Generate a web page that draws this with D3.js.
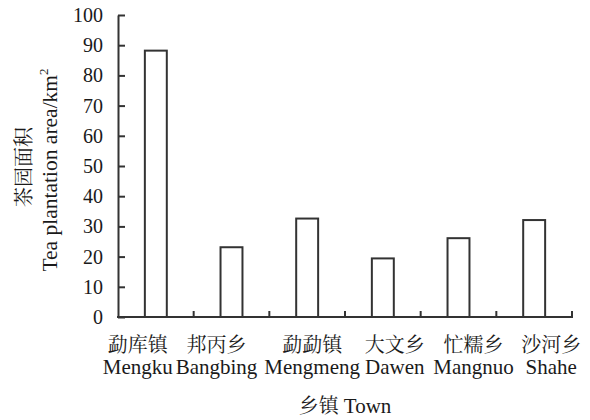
<!DOCTYPE html>
<html>
<head>
<meta charset="utf-8">
<script src="https://cdn.jsdelivr.net/npm/d3@7"></script>
<style>
  html, body { margin: 0; padding: 0; background: #fff; }
  svg { display: block; }
</style>
</head>
<body>
<svg id="chart" width="590" height="420"></svg>
<script>
// Tea plantation area by town (km²)
const townsZh = ["勐库镇", "邦丙乡", "勐勐镇", "大文乡", "忙糯乡", "沙河乡"];
const townsEn = ["Mengku", "Bangbing", "Mengmeng", "Dawen", "Mangnuo", "Shahe"];
const areas = [88.2, 23.1, 32.6, 19.4, 26.1, 32.1];
const yTicks = [0, 10, 20, 30, 40, 50, 60, 70, 80, 90, 100];

// Layout
const plotLeft = 118, plotRight = 572, plotTop = 15, plotBottom = 317;
const labelShift = [-18, -15, 5, 12, 15, 17];
const ink = "#333";
const textInk = "#1a1a1a";
const latin = "'Liberation Serif', 'Times New Roman', serif";
const cjk = "'Noto Serif CJK SC', 'Liberation Serif', serif";

const svg = d3.select("#chart");

const x = d3.scaleBand().domain(townsEn).range([plotLeft, plotRight]).paddingInner(0).paddingOuter(0);
const y = d3.scaleLinear().domain([0, 100]).range([plotBottom, plotTop]);

// Y axis with inward ticks
const yAxis = d3.axisLeft(y).tickValues(yTicks).tickSizeInner(-7).tickSizeOuter(0).tickPadding(15);
const gy = svg.append("g").attr("transform", `translate(${plotLeft},0)`).call(yAxis);
gy.select(".domain").attr("stroke", ink).attr("stroke-width", 2);
gy.selectAll(".tick line").attr("stroke", ink).attr("stroke-width", 2);
gy.selectAll(".tick text")
  .style("font-family", latin)
  .style("font-size", "20px")
  .style("fill", textInk);

// X axis baseline with upward boundary ticks
svg.append("line")
  .attr("x1", plotLeft - 1).attr("x2", plotRight + 1)
  .attr("y1", plotBottom).attr("y2", plotBottom)
  .attr("stroke", ink).attr("stroke-width", 2);
svg.selectAll("line.xtick")
  .data(townsEn)
  .join("line")
  .attr("class", "xtick")
  .attr("x1", d => x(d) + x.bandwidth()).attr("x2", d => x(d) + x.bandwidth())
  .attr("y1", plotBottom).attr("y2", plotBottom - 6)
  .attr("stroke", ink).attr("stroke-width", 2);

// Bars
const bw = x.bandwidth() * 0.29;
svg.selectAll("rect.bar")
  .data(areas)
  .join("rect")
  .attr("class", "bar")
  .attr("x", (d, i) => x(townsEn[i]) + x.bandwidth() / 2 - bw / 2)
  .attr("y", d => y(d))
  .attr("width", bw)
  .attr("height", d => y(0) - y(d))
  .attr("fill", "#fff")
  .attr("stroke", ink)
  .attr("stroke-width", 2);

// Category labels (Chinese above, English below)
const cx = i => x(townsEn[i]) + x.bandwidth() / 2 + labelShift[i];
svg.selectAll("text.zh")
  .data(townsZh)
  .join("text")
  .attr("class", "zh")
  .attr("x", (d, i) => cx(i))
  .attr("y", 352)
  .attr("text-anchor", "middle")
  .style("font-family", cjk)
  .style("font-size", "20px")
  .style("fill", textInk)
  .text(d => d);
svg.selectAll("text.en")
  .data(townsEn)
  .join("text")
  .attr("class", "en")
  .attr("x", (d, i) => cx(i))
  .attr("y", 374)
  .attr("text-anchor", "middle")
  .style("font-family", latin)
  .style("font-size", "21px")
  .style("fill", textInk)
  .text(d => d);

// X axis title
const xt = svg.append("text")
  .attr("x", (plotLeft + plotRight) / 2)
  .attr("y", 413)
  .attr("text-anchor", "middle")
  .style("font-size", "20px")
  .style("fill", textInk);
xt.append("tspan").style("font-family", cjk).text("乡镇 ");
xt.append("tspan").style("font-family", latin).style("font-size", "21px").text("Town");

// Y axis title (two lines)
svg.append("text")
  .attr("transform", "translate(31,167) rotate(-90)")
  .attr("text-anchor", "middle")
  .style("font-family", cjk)
  .style("font-size", "20px")
  .style("fill", textInk)
  .text("茶园面积");
const yt = svg.append("text")
  .attr("transform", "translate(57,170) rotate(-90)")
  .attr("text-anchor", "middle")
  .style("font-family", latin)
  .style("font-size", "21.5px")
  .style("fill", textInk);
yt.append("tspan").text("Tea plantation area/km");
yt.append("tspan").style("font-size", "13px").attr("dy", -9).text("2");
</script>
</body>
</html>
